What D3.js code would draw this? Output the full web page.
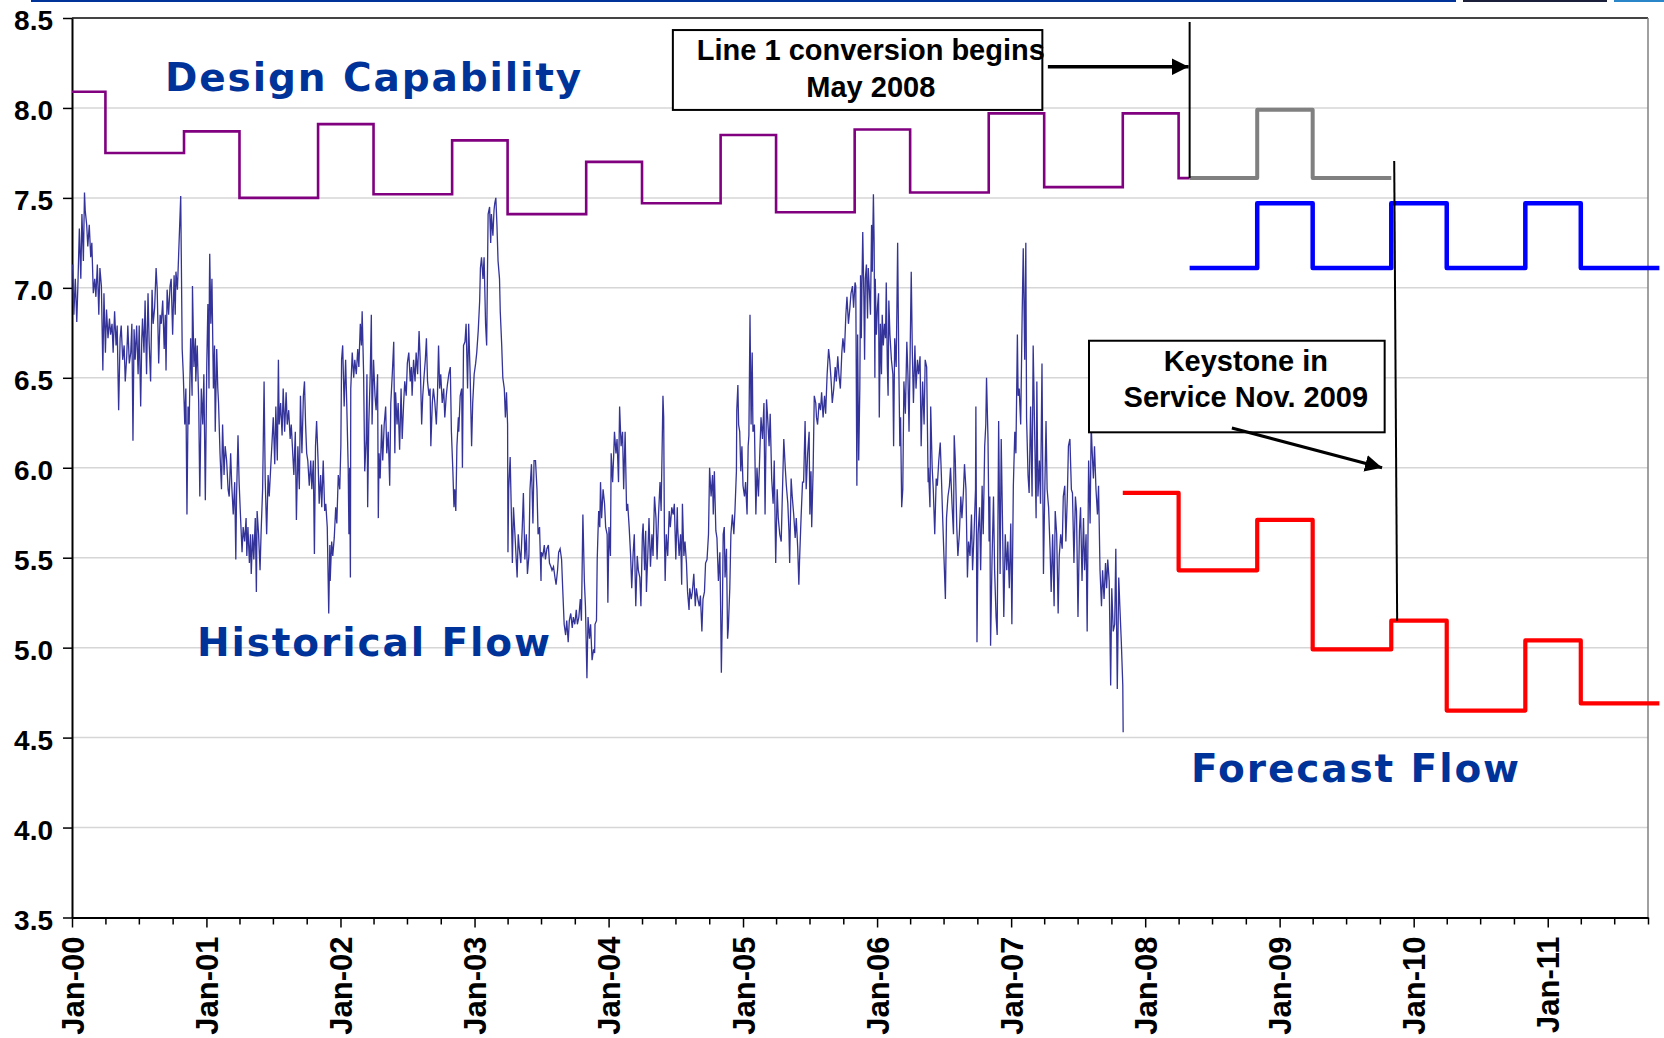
<!DOCTYPE html>
<html>
<head>
<meta charset="utf-8">
<script src="https://cdn.jsdelivr.net/npm/d3@7"></script>
<style>
  body { margin: 0; background: #fff; }
  svg { display: block; }
</style>
</head>
<body>
<div id="chart"></div>
<script>
// ---- data ----
var yTicks = [3.5, 4.0, 4.5, 5.0, 5.5, 6.0, 6.5, 7.0, 7.5, 8.0, 8.5];

// design capability, historical period (step starts, last entry = end)
var designDates  = ["2000-01","2000-04","2000-11","2001-04","2001-11","2002-04","2002-11","2003-04","2003-11","2004-04","2004-11","2005-04","2005-11","2006-04","2006-11","2007-04","2007-11","2008-04","2008-05"];
var designValues = [8.09, 7.75, 7.87, 7.50, 7.91, 7.52, 7.82, 7.41, 7.70, 7.47, 7.85, 7.42, 7.88, 7.53, 7.97, 7.56, 7.97, 7.61, 7.61];

// capability during line 1 conversion (grey)
var conversionDates  = ["2008-05","2008-11","2009-04","2009-11"];
var conversionValues = [7.61, 7.99, 7.61, 7.61];

// capability with Keystone (blue)
var keystoneDates  = ["2008-05","2008-11","2009-04","2009-11","2010-04","2010-11","2011-04","2011-11"];
var keystoneValues = [7.11, 7.47, 7.11, 7.47, 7.11, 7.47, 7.11, 7.11];

// forecast flow (red)
var forecastDates  = ["2007-11","2008-04","2008-11","2009-04","2009-11","2010-04","2010-11","2011-04","2011-11"];
var forecastValues = [5.86, 5.43, 5.71, 4.99, 5.15, 4.65, 5.04, 4.69, 4.69];

// historical flow: [years after 1 Jan 2000, value]
var historicalFlow = [
[0.005,7.13],[0.015,6.85],[0.025,7.05],[0.035,6.81],[0.045,7.01],[0.055,7.33],[0.065,7.05],[0.075,7.41],[0.084,7.15],[0.094,7.53],
[0.099,7.43],[0.109,7.35],[0.119,7.23],[0.129,7.35],[0.139,7.17],[0.147,7.25],[0.159,6.97],[0.169,7.05],[0.179,6.95],[0.189,7.13],
[0.199,6.85],[0.209,7.11],[0.219,7.01],[0.229,6.54],[0.238,6.97],[0.248,6.64],[0.258,6.88],[0.268,6.72],[0.278,6.83],[0.288,6.74],
[0.298,6.80],[0.308,6.64],[0.318,6.87],[0.328,6.68],[0.338,6.79],[0.348,6.32],[0.358,6.72],[0.368,6.79],[0.378,6.60],[0.388,6.68],
[0.397,6.48],[0.407,6.62],[0.417,6.79],[0.427,6.58],[0.437,6.64],[0.447,6.80],[0.455,6.15],[0.462,6.77],[0.472,6.60],[0.482,6.79],
[0.492,6.52],[0.502,6.79],[0.512,6.34],[0.519,6.72],[0.527,6.83],[0.537,6.64],[0.546,6.93],[0.556,6.52],[0.566,6.97],[0.576,6.70],
[0.586,6.48],[0.596,6.99],[0.606,6.80],[0.616,6.89],[0.626,7.11],[0.636,6.99],[0.646,6.58],[0.656,6.85],[0.666,6.80],[0.676,6.93],
[0.686,6.66],[0.696,6.85],[0.700,6.54],[0.710,6.99],[0.720,6.85],[0.730,7.01],[0.740,7.05],[0.750,6.74],[0.760,7.07],[0.770,6.85],
[0.775,7.09],[0.785,6.99],[0.810,7.51],[0.820,6.66],[0.830,6.52],[0.840,6.24],[0.850,6.44],[0.857,5.74],[0.864,6.34],[0.874,6.24],
[0.884,6.72],[0.894,6.40],[0.899,7.01],[0.909,6.56],[0.919,6.72],[0.924,6.48],[0.934,6.68],[0.944,6.36],[0.954,5.84],[0.964,6.44],
[0.974,6.24],[0.984,6.52],[0.994,5.82],[1.004,6.58],[1.013,6.91],[1.021,6.44],[1.023,6.99],[1.028,7.19],[1.036,6.80],[1.043,7.05],
[1.053,6.44],[1.061,6.68],[1.068,6.20],[1.078,6.66],[1.086,6.44],[1.093,6.36],[1.103,6.08],[1.113,5.88],[1.123,6.24],[1.133,5.96],
[1.143,6.12],[1.153,6.04],[1.163,5.88],[1.172,5.84],[1.182,6.08],[1.192,5.90],[1.202,5.74],[1.212,5.92],[1.220,5.49],[1.227,5.84],
[1.237,6.18],[1.247,5.92],[1.257,5.72],[1.267,5.53],[1.277,5.67],[1.287,5.59],[1.297,5.72],[1.302,5.51],[1.312,5.67],[1.322,5.47],
[1.331,5.63],[1.336,5.41],[1.346,5.63],[1.356,5.49],[1.366,5.72],[1.374,5.31],[1.381,5.76],[1.391,5.63],[1.401,5.43],[1.411,5.65],
[1.421,5.88],[1.431,6.48],[1.441,5.94],[1.451,5.63],[1.461,5.96],[1.471,5.84],[1.480,6.00],[1.490,6.12],[1.500,6.28],[1.510,6.02],
[1.520,6.34],[1.530,6.04],[1.538,6.60],[1.545,6.24],[1.555,6.36],[1.565,6.18],[1.575,6.44],[1.585,6.20],[1.595,6.42],[1.605,6.24],
[1.615,6.32],[1.625,6.16],[1.634,6.24],[1.644,6.12],[1.654,5.96],[1.664,6.20],[1.674,5.71],[1.684,6.12],[1.694,5.88],[1.704,6.40],
[1.714,6.08],[1.724,6.40],[1.734,6.48],[1.741,6.24],[1.749,6.08],[1.759,6.04],[1.769,5.90],[1.779,6.04],[1.788,5.88],[1.798,6.04],
[1.808,5.52],[1.816,6.12],[1.823,6.26],[1.833,6.04],[1.843,5.80],[1.853,5.96],[1.863,5.78],[1.873,6.04],[1.883,5.76],[1.893,5.80],
[1.903,5.67],[1.913,5.19],[1.923,5.57],[1.925,5.37],[1.935,5.59],[1.945,5.51],[1.955,5.61],[1.965,5.78],[1.975,5.69],[1.985,5.96],
[1.995,5.88],[2.004,6.12],[2.009,6.60],[2.019,6.68],[2.029,6.34],[2.039,6.60],[2.049,6.36],[2.059,6.00],[2.064,5.63],[2.069,6.00],
[2.074,5.39],[2.079,6.44],[2.089,6.64],[2.099,6.50],[2.109,6.60],[2.119,6.52],[2.129,6.66],[2.139,6.56],[2.149,6.80],[2.158,6.68],
[2.163,6.87],[2.173,6.52],[2.183,5.98],[2.193,6.16],[2.198,6.52],[2.203,5.78],[2.213,6.24],[2.223,6.52],[2.231,6.85],[2.238,6.24],
[2.248,6.60],[2.258,6.40],[2.268,6.32],[2.278,6.52],[2.283,5.72],[2.290,6.08],[2.298,5.94],[2.308,6.24],[2.317,6.04],[2.327,6.24],
[2.337,6.34],[2.347,6.08],[2.357,6.20],[2.367,5.90],[2.377,6.36],[2.387,6.52],[2.397,6.70],[2.407,6.08],[2.412,6.42],[2.422,6.24],
[2.432,6.36],[2.442,6.10],[2.452,6.44],[2.461,6.16],[2.471,6.36],[2.481,6.48],[2.491,6.40],[2.501,6.58],[2.511,6.64],[2.521,6.48],
[2.531,6.56],[2.536,6.40],[2.546,6.60],[2.556,6.48],[2.566,6.64],[2.576,6.52],[2.586,6.76],[2.596,6.60],[2.606,6.24],[2.616,6.40],
[2.625,6.52],[2.635,6.60],[2.643,6.72],[2.650,6.48],[2.660,6.40],[2.670,6.44],[2.675,6.12],[2.685,6.36],[2.695,6.44],[2.705,6.36],
[2.715,6.24],[2.725,6.40],[2.732,6.68],[2.740,6.44],[2.750,6.52],[2.760,6.36],[2.770,6.44],[2.780,6.28],[2.789,6.40],[2.799,6.46],
[2.809,6.52],[2.819,6.56],[2.829,6.20],[2.839,5.98],[2.847,5.78],[2.854,5.88],[2.861,5.76],[2.869,6.12],[2.879,6.28],[2.884,6.20],
[2.894,6.40],[2.904,6.44],[2.911,6.00],[2.919,6.68],[2.929,6.70],[2.938,6.80],[2.948,6.44],[2.958,6.80],[2.968,6.52],[2.978,6.12],
[2.988,6.36],[2.998,6.52],[3.008,6.58],[3.018,6.64],[3.028,6.76],[3.038,6.93],[3.045,7.11],[3.053,7.17],[3.063,7.05],[3.073,7.17],
[3.083,6.80],[3.090,6.68],[3.097,7.05],[3.102,7.41],[3.112,7.45],[3.122,7.25],[3.127,7.41],[3.137,7.29],[3.147,7.43],[3.152,7.47],
[3.160,7.50],[3.167,7.35],[3.177,7.15],[3.187,7.05],[3.192,6.87],[3.202,6.68],[3.212,6.50],[3.222,6.44],[3.232,6.28],[3.239,6.42],
[3.247,6.24],[3.251,5.53],[3.256,5.88],[3.266,6.06],[3.276,5.67],[3.284,5.47],[3.291,5.78],[3.301,5.63],[3.311,5.51],[3.319,5.39],
[3.326,5.63],[3.336,5.55],[3.346,5.47],[3.356,5.67],[3.366,5.86],[3.376,5.49],[3.386,5.63],[3.396,5.41],[3.405,5.51],[3.415,5.88],
[3.425,6.02],[3.435,5.69],[3.445,6.04],[3.455,6.04],[3.465,5.88],[3.475,5.63],[3.485,5.67],[3.495,5.37],[3.500,5.53],[3.510,5.51],
[3.520,5.57],[3.530,5.49],[3.540,5.55],[3.550,5.57],[3.560,5.47],[3.569,5.45],[3.579,5.43],[3.589,5.45],[3.599,5.39],[3.609,5.35],
[3.619,5.43],[3.629,5.53],[3.639,5.55],[3.649,5.49],[3.659,5.33],[3.669,5.13],[3.679,5.07],[3.689,5.15],[3.699,5.03],[3.708,5.15],
[3.718,5.19],[3.728,5.11],[3.738,5.17],[3.748,5.13],[3.758,5.21],[3.768,5.13],[3.778,5.17],[3.788,5.27],[3.798,5.15],[3.808,5.74],
[3.818,5.37],[3.828,5.23],[3.838,4.83],[3.848,5.17],[3.857,5.05],[3.867,5.13],[3.877,4.93],[3.887,4.99],[3.897,4.97],[3.900,5.13],
[3.910,5.15],[3.915,5.49],[3.920,5.63],[3.925,5.76],[3.934,5.67],[3.939,5.92],[3.949,5.72],[3.959,5.88],[3.969,5.80],[3.979,5.67],
[3.989,5.63],[3.994,5.25],[4.004,5.67],[4.014,5.51],[4.019,6.08],[4.029,5.92],[4.039,6.08],[4.044,6.20],[4.054,6.08],[4.064,6.16],
[4.074,5.92],[4.083,6.34],[4.093,6.12],[4.103,6.20],[4.113,5.88],[4.123,6.20],[4.133,5.76],[4.143,5.80],[4.153,5.67],[4.163,5.51],
[4.173,5.33],[4.183,5.53],[4.193,5.63],[4.203,5.23],[4.213,5.51],[4.223,5.43],[4.232,5.39],[4.242,5.23],[4.252,5.63],[4.257,5.69],
[4.267,5.43],[4.277,5.65],[4.282,5.31],[4.292,5.53],[4.302,5.72],[4.312,5.45],[4.322,5.63],[4.332,5.51],[4.342,5.84],[4.352,5.72],
[4.362,5.49],[4.372,5.74],[4.382,5.92],[4.391,5.76],[4.399,6.14],[4.406,6.40],[4.411,6.28],[4.416,5.63],[4.421,5.37],[4.431,5.63],
[4.441,5.51],[4.451,5.76],[4.461,5.67],[4.471,5.78],[4.481,5.74],[4.491,5.80],[4.501,5.49],[4.511,5.78],[4.516,5.67],[4.526,5.51],
[4.536,5.63],[4.545,5.35],[4.550,5.80],[4.560,5.51],[4.570,5.59],[4.580,5.47],[4.590,5.31],[4.600,5.21],[4.605,5.33],[4.615,5.27],
[4.625,5.31],[4.635,5.41],[4.645,5.23],[4.655,5.33],[4.665,5.27],[4.675,5.23],[4.685,5.29],[4.695,5.09],[4.704,5.27],[4.714,5.31],
[4.724,5.47],[4.734,5.49],[4.744,5.63],[4.754,6.00],[4.764,5.84],[4.774,5.96],[4.779,5.74],[4.789,5.98],[4.799,5.65],[4.809,5.61],
[4.819,5.37],[4.829,5.53],[4.836,5.23],[4.841,4.86],[4.849,5.23],[4.854,5.63],[4.863,5.67],[4.868,5.39],[4.878,5.55],[4.886,5.05],
[4.893,5.11],[4.903,5.33],[4.913,5.63],[4.923,5.74],[4.933,5.63],[4.943,5.76],[4.953,5.98],[4.955,6.32],[4.963,6.46],[4.970,6.24],
[4.978,6.20],[4.985,5.98],[4.993,6.12],[5.003,5.90],[5.012,5.84],[5.022,5.92],[5.032,5.74],[5.040,6.12],[5.047,6.18],[5.055,6.85],
[5.062,6.24],[5.070,6.64],[5.077,6.20],[5.087,6.24],[5.097,5.74],[5.107,6.00],[5.117,5.84],[5.127,6.10],[5.137,6.28],[5.147,6.16],
[5.157,6.36],[5.166,5.74],[5.176,6.38],[5.186,6.28],[5.196,6.12],[5.206,6.30],[5.216,5.94],[5.226,5.80],[5.236,6.04],[5.246,5.47],
[5.256,5.88],[5.266,5.72],[5.276,5.63],[5.286,5.59],[5.296,5.84],[5.306,6.16],[5.316,6.00],[5.325,5.90],[5.335,5.80],[5.345,5.65],
[5.350,5.47],[5.360,5.94],[5.370,5.84],[5.380,5.74],[5.390,5.61],[5.400,5.72],[5.410,5.55],[5.417,5.35],[5.425,5.49],[5.435,5.72],
[5.445,5.92],[5.455,5.92],[5.465,6.26],[5.474,5.88],[5.484,6.08],[5.494,6.20],[5.499,5.74],[5.509,5.98],[5.514,5.67],[5.524,6.00],
[5.534,6.40],[5.544,6.36],[5.549,6.28],[5.559,6.24],[5.569,6.36],[5.579,6.32],[5.589,6.42],[5.599,6.28],[5.609,6.40],[5.619,6.30],
[5.629,6.52],[5.639,6.66],[5.648,6.60],[5.658,6.48],[5.668,6.36],[5.678,6.44],[5.688,6.56],[5.698,6.48],[5.708,6.62],[5.718,6.52],
[5.728,6.44],[5.738,6.64],[5.748,6.72],[5.758,6.64],[5.768,6.85],[5.778,6.95],[5.788,6.80],[5.798,6.89],[5.807,6.97],[5.817,7.01],
[5.827,6.89],[5.837,7.03],[5.842,7.01],[5.850,5.90],[5.857,6.74],[5.864,6.04],[5.872,6.44],[5.879,7.07],[5.884,6.72],[5.889,7.05],
[5.894,7.31],[5.902,6.95],[5.909,6.60],[5.914,7.05],[5.922,7.13],[5.929,6.83],[5.936,7.11],[5.944,6.99],[5.951,6.85],[5.959,7.35],
[5.966,7.09],[5.974,7.52],[5.979,7.25],[5.984,6.50],[5.989,7.05],[5.996,6.74],[6.004,6.89],[6.011,6.97],[6.018,6.28],[6.026,6.80],
[6.033,6.52],[6.041,6.85],[6.048,6.68],[6.056,6.80],[6.063,6.72],[6.071,7.03],[6.078,6.56],[6.083,6.40],[6.090,6.93],[6.098,6.74],
[6.108,6.60],[6.118,6.52],[6.125,6.12],[6.133,6.72],[6.143,6.56],[6.150,6.89],[6.155,7.25],[6.163,6.60],[6.170,6.12],[6.177,6.28],
[6.185,5.78],[6.192,5.88],[6.202,6.48],[6.212,6.30],[6.222,6.70],[6.232,6.52],[6.240,6.20],[6.247,6.64],[6.257,7.09],[6.264,6.64],
[6.272,6.36],[6.282,6.68],[6.292,6.44],[6.302,6.60],[6.312,6.52],[6.321,6.62],[6.331,6.12],[6.341,6.48],[6.351,6.24],[6.361,6.60],
[6.371,6.56],[6.381,5.92],[6.386,6.00],[6.396,5.78],[6.401,6.34],[6.411,6.00],[6.421,5.88],[6.431,5.63],[6.441,5.94],[6.451,5.90],
[6.461,6.04],[6.471,6.14],[6.480,5.96],[6.490,5.76],[6.500,5.51],[6.510,5.27],[6.520,5.72],[6.530,5.84],[6.540,5.90],[6.550,6.00],
[6.560,5.80],[6.570,5.63],[6.575,6.18],[6.585,6.04],[6.595,5.67],[6.605,5.51],[6.615,5.63],[6.625,5.84],[6.634,5.72],[6.644,5.86],
[6.654,6.02],[6.664,5.88],[6.674,5.39],[6.684,5.59],[6.694,5.51],[6.704,5.74],[6.714,5.43],[6.724,5.63],[6.734,5.88],[6.739,6.34],
[6.746,5.03],[6.754,5.63],[6.764,5.78],[6.774,5.43],[6.784,5.90],[6.793,5.63],[6.803,6.12],[6.813,6.24],[6.818,6.50],[6.828,6.16],
[6.836,5.59],[6.843,5.84],[6.848,5.01],[6.858,5.49],[6.868,5.84],[6.878,5.43],[6.888,5.17],[6.898,5.07],[6.908,6.26],[6.918,5.41],
[6.928,6.16],[6.938,5.63],[6.947,5.17],[6.957,5.63],[6.967,5.43],[6.977,5.59],[6.987,5.33],[6.997,5.69],[7.007,5.13],[7.017,5.90],
[7.027,6.20],[7.037,6.08],[7.047,6.74],[7.052,6.40],[7.062,6.44],[7.072,6.24],[7.082,6.85],[7.092,7.22],[7.101,6.60],[7.109,7.25],
[7.116,6.28],[7.126,5.96],[7.136,5.86],[7.146,6.34],[7.156,5.84],[7.166,6.68],[7.176,6.20],[7.186,5.72],[7.191,6.48],[7.201,5.84],
[7.211,6.04],[7.221,5.80],[7.231,6.58],[7.241,5.41],[7.251,5.80],[7.260,6.26],[7.270,5.88],[7.280,5.78],[7.290,5.55],[7.300,5.31],
[7.310,5.63],[7.320,5.23],[7.330,5.76],[7.340,5.63],[7.350,5.19],[7.360,5.51],[7.370,5.63],[7.380,5.55],[7.390,5.84],[7.400,5.90],
[7.409,5.59],[7.419,5.84],[7.429,6.12],[7.439,6.16],[7.449,5.88],[7.459,5.86],[7.469,5.47],[7.479,5.84],[7.489,5.76],[7.499,5.17],
[7.509,5.65],[7.519,5.78],[7.529,5.37],[7.539,5.72],[7.549,5.43],[7.559,5.63],[7.568,5.09],[7.578,6.04],[7.588,5.69],[7.598,6.24],
[7.603,6.12],[7.613,5.94],[7.623,6.12],[7.633,5.88],[7.643,5.74],[7.653,5.90],[7.663,5.43],[7.673,5.23],[7.683,5.43],[7.693,5.27],
[7.703,5.47],[7.713,5.33],[7.722,5.49],[7.732,5.37],[7.742,4.79],[7.752,5.33],[7.762,5.09],[7.772,5.13],[7.782,5.55],[7.792,4.77],
[7.802,5.39],[7.812,5.23],[7.822,5.03],[7.832,4.79],[7.837,4.53]
];

// ---- layout ----
var width = 1664, height = 1038;
var plotLeft = 72, plotRight = 1648, plotTop = 18, plotBottom = 917.5;

var svg = d3.select("#chart").append("svg")
    .attr("width", width)
    .attr("height", height)
    .style("font-family", "'Liberation Sans', Arial, sans-serif");

var parseMonth = d3.timeParse("%Y-%m");
var base = new Date(2000, 0, 1);
function yearsToDate(t) { return new Date(2000, 0, 1 + Math.round(t * 365.25)); }

var x = d3.scaleTime()
    .domain([base, new Date(2011, 9, 1)])
    .range([plotLeft, plotRight]);
var y = d3.scaleLinear()
    .domain([3.5, 8.5])
    .range([plotBottom, plotTop]);
function xt(t) { return x(yearsToDate(t)); }

// slide decoration strip along the very top
svg.append("rect").attr("x", 31).attr("y", 0).attr("width", 1425).attr("height", 2).attr("fill", "#003399");
svg.append("rect").attr("x", 1463).attr("y", 0).attr("width", 144).attr("height", 2).attr("fill", "#1b1f3a");
svg.append("rect").attr("x", 1614).attr("y", 0).attr("width", 50).attr("height", 2).attr("fill", "#2a86c8");

// gridlines
svg.append("g").selectAll("line")
    .data(yTicks.filter(function(d) { return d > 3.5; }))
    .enter().append("line")
    .attr("x1", plotLeft).attr("x2", plotRight)
    .attr("y1", function(d) { return y(d); })
    .attr("y2", function(d) { return y(d); })
    .attr("stroke", "#d6d6d6")
    .attr("stroke-width", 1.5);

// plot frame: top and right
svg.append("line").attr("x1", plotLeft).attr("x2", plotRight).attr("y1", plotTop).attr("y2", plotTop)
    .attr("stroke", "#111").attr("stroke-width", 1.5);
svg.append("line").attr("x1", plotRight).attr("x2", plotRight).attr("y1", plotTop).attr("y2", plotBottom)
    .attr("stroke", "#808080").attr("stroke-width", 1.5);

// Y axis
var yAxis = svg.append("g")
    .attr("transform", "translate(" + plotLeft + ",0)")
    .call(d3.axisLeft(y).tickValues(yTicks).tickFormat(d3.format(".1f")).tickSize(9).tickSizeOuter(0));
yAxis.select(".domain").attr("stroke", "#000").attr("stroke-width", 2);
yAxis.selectAll(".tick line").attr("stroke", "#000").attr("stroke-width", 1.5);
yAxis.selectAll(".tick text")
    .attr("x", -19)
    .attr("dy", "0.42em")
    .style("font-family", "'Liberation Sans', Arial, sans-serif")
    .style("font-size", "28px")
    .style("font-weight", "bold")
    .attr("fill", "#000");

// X axis: quarterly ticks, labels on January
var fmt = d3.timeFormat("%b-%y");
var xAxis = svg.append("g")
    .attr("transform", "translate(0," + plotBottom + ")")
    .call(d3.axisBottom(x)
        .ticks(d3.timeMonth.every(3))
        .tickSize(7)
        .tickSizeOuter(0)
        .tickFormat(function(d) { return d.getMonth() === 0 ? fmt(d) : ""; }));
xAxis.select(".domain").attr("stroke", "#000").attr("stroke-width", 2);
xAxis.selectAll(".tick line").attr("stroke", "#000").attr("stroke-width", 1.5)
    .attr("y2", function(d) { return d.getMonth() === 0 ? 10 : 7; });
xAxis.selectAll(".tick text")
    .attr("transform", "rotate(-90)")
    .attr("x", -19)
    .attr("y", 0)
    .attr("dy", "0.36em")
    .style("text-anchor", "end")
    .style("font-family", "'Liberation Sans', Arial, sans-serif")
    .style("font-size", "31px")
    .style("font-weight", "bold")
    .attr("fill", "#000");

// ---- series ----
function stepSeries(dates, values) {
    return dates.map(function(d, i) { return { date: parseMonth(d), value: values[i] }; });
}
var stepLine = d3.line()
    .x(function(d) { return x(d.date); })
    .y(function(d) { return y(d.value); })
    .curve(d3.curveStepAfter);

var histLine = d3.line()
    .x(function(d) { return xt(d[0]); })
    .y(function(d) { return y(d[1]); });

svg.append("path")
    .datum(historicalFlow)
    .attr("d", histLine)
    .attr("fill", "none")
    .attr("stroke", "#333399")
    .attr("stroke-width", 1.3);

svg.append("path")
    .datum(stepSeries(designDates, designValues))
    .attr("d", stepLine)
    .attr("fill", "none")
    .attr("stroke", "#800080")
    .attr("stroke-width", 2.6);

svg.append("path")
    .datum(stepSeries(conversionDates, conversionValues))
    .attr("d", stepLine)
    .attr("fill", "none")
    .attr("stroke", "#808080")
    .attr("stroke-width", 4)
    .attr("stroke-linejoin", "round");

svg.append("path")
    .datum(stepSeries(keystoneDates, keystoneValues))
    .attr("d", stepLine)
    .attr("fill", "none")
    .attr("stroke", "#0000ff")
    .attr("stroke-width", 4.5)
    .attr("stroke-linejoin", "round");

svg.append("path")
    .datum(stepSeries(forecastDates, forecastValues))
    .attr("d", stepLine)
    .attr("fill", "none")
    .attr("stroke", "#ff0000")
    .attr("stroke-width", 4.2)
    .attr("stroke-linejoin", "round");

// ---- annotations ----
svg.append("defs").append("marker")
    .attr("id", "arrow")
    .attr("viewBox", "0 0 10 10")
    .attr("refX", 10).attr("refY", 5)
    .attr("markerWidth", 17).attr("markerHeight", 17)
    .attr("markerUnits", "userSpaceOnUse")
    .attr("orient", "auto")
    .append("path").attr("d", "M0,0L10,5L0,10z").attr("fill", "#000");

// Line 1 conversion
svg.append("line")
    .attr("x1", x(parseMonth("2008-05"))).attr("x2", x(parseMonth("2008-05")))
    .attr("y1", y(8.478)).attr("y2", y(7.61))
    .attr("stroke", "#000").attr("stroke-width", 2);
svg.append("rect")
    .attr("x", xt(4.478)).attr("y", y(8.433))
    .attr("width", xt(7.234) - xt(4.478)).attr("height", y(7.989) - y(8.433))
    .attr("fill", "#fff").attr("stroke", "#000").attr("stroke-width", 2);
svg.append("line")
    .attr("x1", xt(7.275)).attr("x2", x(parseMonth("2008-05")) - 1)
    .attr("y1", y(8.229)).attr("y2", y(8.229))
    .attr("stroke", "#000").attr("stroke-width", 3.5)
    .attr("marker-end", "url(#arrow)");
var line1Text = ["Line 1 conversion begins", "May 2008"];
svg.append("g").selectAll("text").data(line1Text).enter().append("text")
    .attr("x", xt(5.955))
    .attr("y", function(d, i) { return y(i === 0 ? 8.267 : 8.063); })
    .attr("text-anchor", "middle")
    .style("font-size", "29px").style("font-weight", "bold")
    .text(function(d) { return d; });

// Keystone in service
svg.append("line")
    .attr("x1", xt(9.857)).attr("y1", y(7.705))
    .attr("x2", xt(9.877)).attr("y2", y(5.15))
    .attr("stroke", "#000").attr("stroke-width", 2);
svg.append("rect")
    .attr("x", xt(7.581)).attr("y", y(6.706))
    .attr("width", xt(9.785) - xt(7.581)).attr("height", y(6.197) - y(6.706))
    .attr("fill", "#fff").attr("stroke", "#000").attr("stroke-width", 2);
svg.append("line")
    .attr("x1", xt(8.647)).attr("y1", y(6.221))
    .attr("x2", xt(9.765)).attr("y2", y(6.0))
    .attr("stroke", "#000").attr("stroke-width", 3)
    .attr("marker-end", "url(#arrow)");
var keystoneText = ["Keystone in", "Service Nov. 2009"];
svg.append("g").selectAll("text").data(keystoneText).enter().append("text")
    .attr("x", xt(8.751))
    .attr("y", function(d, i) { return y(i === 0 ? 6.538 : 6.339); })
    .attr("text-anchor", "middle")
    .style("font-size", "29px").style("font-weight", "bold")
    .text(function(d) { return d; });

// series labels
var seriesLabels = [
    { text: "Design Capability", t: 0.693, v: 8.094 },
    { text: "Historical Flow", t: 0.932, v: 4.954 },
    { text: "Forecast Flow", t: 8.341, v: 4.253 }
];
svg.append("g").selectAll("text").data(seriesLabels).enter().append("text")
    .attr("x", function(d) { return xt(d.t); })
    .attr("y", function(d) { return y(d.v); })
    .style("font-family", "'DejaVu Sans', Verdana, sans-serif")
    .style("font-size", "39px")
    .style("font-weight", "bold")
    .style("letter-spacing", "1.9px")
    .attr("fill", "#003399")
    .text(function(d) { return d.text; });
</script>
</body>
</html>
